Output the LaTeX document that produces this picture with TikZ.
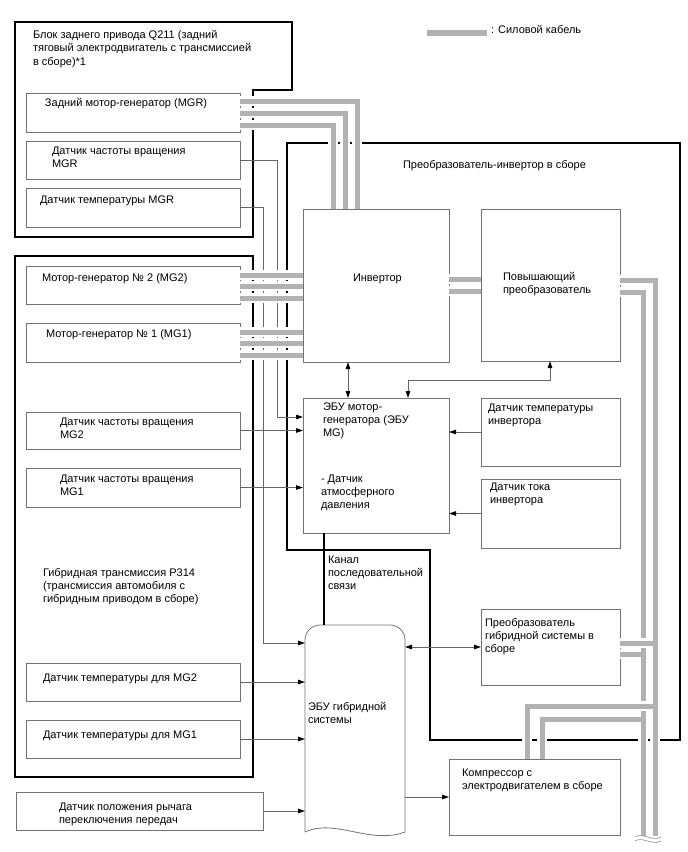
\documentclass[tikz,border=0pt]{standalone}
\usepackage{fontspec}
\setmainfont{Liberation Sans}
\usetikzlibrary{arrows.meta,calc}
\begin{document}
\begin{tikzpicture}[x=1pt,y=-1pt,
  box/.style={draw=black!55, line width=0.8pt, inner sep=0pt, outer sep=0pt},
  ghost/.style={inner sep=0pt, outer sep=0pt},
  txt/.style={anchor=north west, inner sep=0pt, outer sep=0pt, align=left, font=\fontsize{11}{13.2}\selectfont},
  sig/.style={draw=black!60, line width=0.8pt},
  arr/.style={sig, -{Triangle[length=7pt,width=4.5pt,color=black]}},
  darr/.style={sig, {Triangle[length=7pt,width=4.5pt,color=black]}-{Triangle[length=7pt,width=4.5pt,color=black]}},
  frame/.style={draw=black, line width=1.1pt},
  cablew/.style={draw=white, line width=10pt},
  cableg/.style={draw=black!30, line width=5pt},
  serial/.style={draw=black, line width=2.6pt}
]
\useasboundingbox (0,0) rectangle (688,852);

% ---------- frames ----------
\draw[frame] (15,22) -- (292,22) -- (292,90) -- (253,90) -- (253,237) -- (15,237) -- cycle;
\draw[frame] (15,256) rectangle (253,777);
\draw[frame] (287,143) -- (680,143) -- (680,740) -- (430,740) -- (430,550) -- (287,550) -- cycle;

% ---------- boxes ----------
\node[box, minimum width=214pt, minimum height=39pt] (mgr)  at (133,112.5) {};
\node[box, minimum width=214pt, minimum height=38pt] (mgrs) at (133,160) {};
\node[box, minimum width=214pt, minimum height=39pt] (mgrt) at (133,207.5) {};
\node[box, minimum width=214pt, minimum height=38pt] (mg2)  at (133,285) {};
\node[box, minimum width=214pt, minimum height=39pt] (mg1)  at (133,342.5) {};
\node[box, minimum width=214pt, minimum height=37pt] (mg2s) at (133,430.5) {};
\node[box, minimum width=214pt, minimum height=39pt] (mg1s) at (133,487.5) {};
\node[box, minimum width=214pt, minimum height=38pt] (tmg2) at (133,682) {};
\node[box, minimum width=214pt, minimum height=38pt] (tmg1) at (133,739) {};
\node[box, minimum width=247pt, minimum height=38pt] (shift) at (139.5,811) {};
\node[box, minimum width=146pt, minimum height=153pt] (inv) at (376,285.5) {};
\node[box, minimum width=139pt, minimum height=152pt] (boost) at (550.5,285) {};
\node[box, minimum width=146pt, minimum height=135pt] (ecumg) at (376,465.5) {};
\node[box, minimum width=139pt, minimum height=68pt] (invt) at (550.5,432) {};
\node[box, minimum width=139pt, minimum height=69pt] (invc) at (550.5,513.5) {};
\node[box, minimum width=139pt, minimum height=76pt] (hconv) at (550.5,647) {};
\node[box, minimum width=171pt, minimum height=76pt] (comp) at (534.5,797) {};
\node[ghost, minimum width=100pt, minimum height=207pt] (ecuh) at (355,728.5) {};

% hybrid ECU outline (tape-like)
\draw[draw=black!55, line width=0.8pt, rounded corners=15pt]
  (ecuh.south west) -- (ecuh.north west) -- (ecuh.north east) -- (ecuh.south east);
\draw[draw=black!55, line width=0.8pt]
  (ecuh.south east) .. controls (370,845) and (335,818) .. (ecuh.south west);

% ---------- signal lines ----------
\coordinate (r1) at (277,417);
\coordinate (r2) at (263,643);
\coordinate (r3) at (348,380);
\coordinate (r4) at (550,380);
\coordinate (r5) at (408,380);
\coordinate (r6) at (324,0);
\draw[arr] (mgrs.east) -| (r1) -- (ecumg.west |- r1);
\draw[arr] (mgrt.east) -| (r2) -- (ecuh.west |- r2);
\draw[arr] (mg2s.east) -- (ecumg.west |- mg2s.east);
\draw[arr] (mg1s.east) -- (ecumg.west |- mg1s.east);
\draw[arr] (invt.west) -- (ecumg.east |- invt.west);
\draw[arr] (invc.west) -- (ecumg.east |- invc.west);
\draw[darr] (inv.south -| r3) -- (ecumg.north -| r3);
\draw[darr] (boost.south -| r4) -- (r4) -- (r5) -- (ecumg.north -| r5);
\draw[serial] (ecumg.south -| r6) -- (ecuh.north -| r6);
\draw[darr] (ecuh.east |- hconv.west) -- (hconv.west);
\draw[arr] (ecuh.east |- comp.west) -- (comp.west);
\draw[arr] (tmg2.east) -- (ecuh.west |- tmg2.east);
\draw[arr] (tmg1.east) -- (ecuh.west |- tmg1.east);
\draw[arr] (shift.east) -- (ecuh.west |- shift.east);

% ---------- power cables ----------
\coordinate (k1) at (357,101);
\coordinate (k2) at (345,113);
\coordinate (k3) at (333,125);
\coordinate (m21) at (0,275);
\coordinate (m22) at (0,286);
\coordinate (m23) at (0,298);
\coordinate (m11) at (0,332);
\coordinate (m12) at (0,343);
\coordinate (m13) at (0,355);
\coordinate (b1) at (0,279);
\coordinate (b2) at (0,291);
\coordinate (o1) at (655,280);
\coordinate (o2) at (643,292);
\coordinate (e1) at (655,836);
\coordinate (e2) at (643,836);
\coordinate (h1) at (655,643);
\coordinate (h2) at (643,654);
\coordinate (c1) at (527,706);
\coordinate (c1r) at (655,706);
\coordinate (c2) at (542,719);
\coordinate (c2r) at (643,719);
\newcommand\cablepaths[1]{%
  \draw[#1] (mgr.east |- k1) -- (k1) -- (inv.north -| k1);
  \draw[#1] (mgr.east |- k2) -- (k2) -- (inv.north -| k2);
  \draw[#1] (mgr.east |- k3) -- (k3) -- (inv.north -| k3);
  \draw[#1] (mg2.east |- m21) -- (inv.west |- m21);
  \draw[#1] (mg2.east |- m22) -- (inv.west |- m22);
  \draw[#1] (mg2.east |- m23) -- (inv.west |- m23);
  \draw[#1] (mg1.east |- m11) -- (inv.west |- m11);
  \draw[#1] (mg1.east |- m12) -- (inv.west |- m12);
  \draw[#1] (mg1.east |- m13) -- (inv.west |- m13);
  \draw[#1] (inv.east |- b1) -- (boost.west |- b1);
  \draw[#1] (inv.east |- b2) -- (boost.west |- b2);
  \draw[#1] (boost.east |- o1) -- (o1) -- (e1);
  \draw[#1] (boost.east |- o2) -- (o2) -- (e2);
  \draw[#1] (hconv.east |- h1) -- (h1);
  \draw[#1] (hconv.east |- h2) -- (h2);
  \draw[#1] (c1r) -- (c1) -- (comp.north -| c1);
  \draw[#1] (c2r) -- (c2) -- (comp.north -| c2);
}
\cablepaths{cablew}
\cablepaths{cableg}
% crossings over the inner vertical cable
\coordinate (x1a) at (638.5,643); \coordinate (x1b) at (647.5,643);
\coordinate (x2a) at (638.5,706); \coordinate (x2b) at (647.5,706);
\draw[cablew] (x1a) -- (x1b);
\draw[cablew] (x2a) -- (x2b);
\draw[cableg, line cap=butt] (x1a) -- (x1b);
\draw[cableg] (x2a) -- (x2b);

% break marks at the bottom
\coordinate (w1) at (635,837); \coordinate (w2) at (661,837);
\coordinate (w3) at (635,841); \coordinate (w4) at (661,841);
\fill[white] (w1) rectangle ($(w4)+(0,4)$);
\draw[black!45, line width=0.6pt] (w1) .. controls (643,832) and (652,842) .. (w2);
\draw[black!45, line width=0.6pt] (w3) .. controls (643,836) and (652,846) .. (w4);

% legend
\coordinate (l1) at (427,33); \coordinate (l2) at (487,33);
\draw[cableg, line width=5.5pt] (l1) -- (l2);

% ---------- texts ----------
\node[txt] (t1) at (33,30.5) {Блок заднего привода Q211 (задний\\тяговый электродвигатель с трансмиссией\\в сборе)*1};
\node[txt] (t2) at (491,25.5) {: Силовой кабель};
\node[txt] (t3) at (45,98.5) {Задний мотор-генератор (MGR)};
\node[txt] (t4) at (52,146.5) {Датчик частоты вращения\\MGR};
\node[txt] (t5) at (40,195.5) {Датчик температуры MGR};
\node[txt] (t6) at (403,160.5) {Преобразователь-инвертор в сборе};
\node[txt] (t7) at (353,273.5) {Инвертор};
\node[txt] (t8) at (503,272.5) {Повышающий\\преобразователь};
\node[txt] (t9) at (42,273.5) {Мотор-генератор № 2 (MG2)};
\node[txt] (t10) at (46,329.5) {Мотор-генератор № 1 (MG1)};
\node[txt] (t11) at (323,402.5) {ЭБУ мотор-\\генератора (ЭБУ\\MG)};
\node[txt] (t12) at (321,474.5) {- Датчик\\атмосферного\\давления};
\node[txt] (t13) at (488,403.5) {Датчик температуры\\инвертора};
\node[txt] (t14) at (490,482.5) {Датчик тока\\инвертора};
\node[txt] (t15) at (60,417.5) {Датчик частоты вращения\\MG2};
\node[txt] (t16) at (60,474.5) {Датчик частоты вращения\\MG1};
\node[txt] (t17) at (328,555.5) {Канал\\последовательной\\связи};
\node[txt] (t18) at (43,568.5) {Гибридная трансмиссия P314\\(трансмиссия автомобиля с\\гибридным приводом в сборе)};
\node[txt] (t19) at (485,618.5) {Преобразователь\\гибридной системы в\\сборе};
\node[txt] (t20) at (43,673.5) {Датчик температуры для MG2};
\node[txt] (t21) at (43,730.5) {Датчик температуры для MG1};
\node[txt] (t22) at (308,702.5) {ЭБУ гибридной\\системы};
\node[txt] (t23) at (462,768.5) {Компрессор с\\электродвигателем в сборе};
\node[txt] (t24) at (59,802.5) {Датчик положения рычага\\переключения передач};
\end{tikzpicture}
\end{document}
